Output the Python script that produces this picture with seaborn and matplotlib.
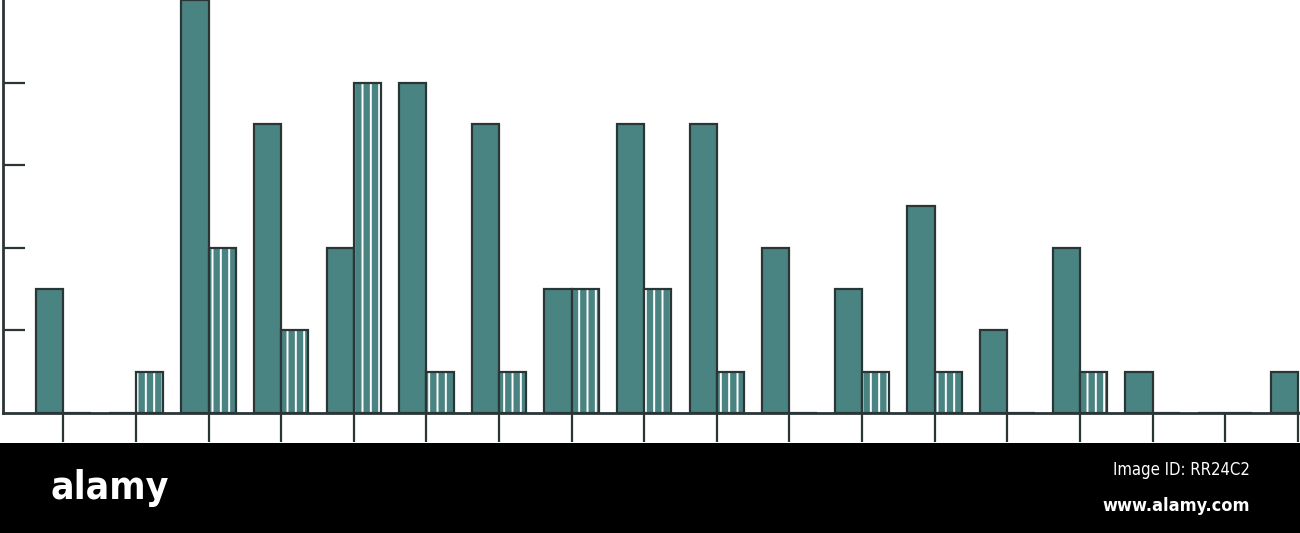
import seaborn as sns
import pandas as pd
import matplotlib.pyplot as plt
from matplotlib.patches import Rectangle

# counts, one group per x tick
groups = list(range(18))
dark_counts = [3, 0, 10, 7, 4, 8, 7, 3, 7, 7, 4, 3, 5, 2, 4, 1, 0, 1]
hatched_counts = [0, 1, 4, 2, 8, 1, 1, 3, 3, 1, 0, 1, 1, 0, 1, 0, 0, 0]
series_names = ["solid", "hatched"]
y_ticks = [2, 4, 6, 8]

teal = "#4a8482"
ink = "#2a3636"

df = pd.DataFrame({
    "group": groups * 2,
    "series": [series_names[0]] * len(groups) + [series_names[1]] * len(groups),
    "count": dark_counts + hatched_counts,
})

sns.set_style("white")
plt.rcParams["font.family"] = ["DejaVu Sans"]
plt.rcParams["hatch.linewidth"] = 1.4

fig = plt.figure(figsize=(13, 5.33), dpi=100)
ax = fig.add_axes([3 / 1300, 1 - 413 / 533, 1 - 3 / 1300, 413 / 533])

sns.barplot(data=df, x="group", y="count", hue="series", hue_order=series_names,
            palette=[teal, teal], width=0.75, dodge=True, saturation=1,
            edgecolor=ink, linewidth=1.6, legend=False, ax=ax)

n = len(groups)
for p in ax.patches[n:2 * n]:
    # white vertical stripes, then redraw the dark outline on top
    p.set_hatch("||")
    p.set_edgecolor("white")
    p.set_linewidth(0)
    ax.add_patch(Rectangle(p.get_xy(), p.get_width(), p.get_height(),
                           fill=False, edgecolor=ink, linewidth=1.6, zorder=p.get_zorder() + 0.1))

ax.set_xlim(-0.83, 17.03)
ax.set_ylim(0, 10.0)
ax.set_yticks(y_ticks)
ax.set_yticklabels([])
ax.set_xticks(groups)
ax.set_xticklabels([])
ax.set_xlabel("")
ax.set_ylabel("")
ax.tick_params(axis="y", direction="in", length=16, width=1.6, color=ink, left=True)
ax.tick_params(axis="x", direction="out", length=21, width=1.6, color=ink, bottom=True)
for side in ["top", "right"]:
    ax.spines[side].set_visible(False)
for side in ["left", "bottom"]:
    ax.spines[side].set_color(ink)
    ax.spines[side].set_linewidth(2)
ax.patch.set_alpha(0)

# stock photo banner along the bottom
banner_font = ["DejaVu Sans"]
fig.patches.append(Rectangle((0, 0), 1, 90 / 533, transform=fig.transFigure,
                             facecolor="black", edgecolor="none", zorder=5))
fig.text(50 / 1300, 1 - 488 / 533, "alamy", color="white", fontsize=28, fontweight="bold",
         fontstretch="condensed", family=banner_font, ha="left", va="center", zorder=6)
fig.text(1250 / 1300, 1 - 470 / 533, "Image ID: RR24C2", color="white", fontsize=12,
         fontstretch="condensed", family=banner_font, ha="right", va="center", zorder=6)
fig.text(1250 / 1300, 1 - 506 / 533, "www.alamy.com", color="white", fontsize=13,
         fontweight="bold", fontstretch="condensed", family=banner_font,
         ha="right", va="center", zorder=6)

fig.savefig("out.png", dpi=100, facecolor="white")
